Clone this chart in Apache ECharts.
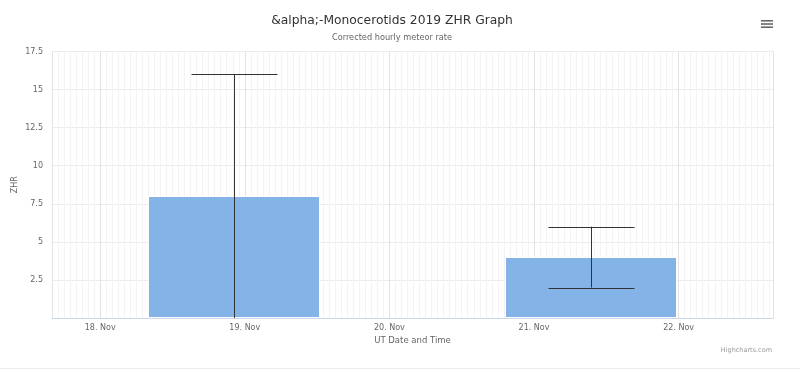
<!DOCTYPE html>
<html>
<head>
<meta charset="utf-8">
<script src="https://cdn.jsdelivr.net/npm/echarts@6/dist/echarts.min.js"></script>
<style>html,body{margin:0;padding:0;background:#fff}#c{width:800px;height:374px}</style>
</head>
<body>
<div id="c"></div>
<script>
// ---- data ----
const times = ['2019-11-18T22:10:00Z', '2019-11-21T09:25:00Z'];
const zhr = [8, 4];
const errLow = [0, 2];
const errHigh = [16, 6];
const yTicks = [0, 2.5, 5, 7.5, 10, 12.5, 15, 17.5];
const titleText = '&alpha;-Monocerotids 2019 ZHR Graph';
const subtitleText = 'Corrected hourly meteor rate';

const xMin = Date.UTC(2019, 10, 17, 16, 0);
const xMax = Date.UTC(2019, 10, 22, 15, 40);
const tms = times.map(t => Date.parse(t));
const FONT = 'DejaVu Sans';
const BAR_W = 171;

const chart = echarts.init(document.getElementById('c'), null, {renderer: 'canvas'});
chart.setOption({
  useUTC: true,
  animation: false,
  backgroundColor: '#fff',
  textStyle: {fontFamily: FONT},
  grid: {left: 52, right: 27, top: 51.5, bottom: 56, containLabel: false},
  xAxis: [{
    type: 'time', min: xMin, max: xMax, z: 2,
    minInterval: 86400000, maxInterval: 86400000,
    axisLine: {show: true, lineStyle: {color: '#ccd6eb', width: 1}},
    axisTick: {show: false},
    splitLine: {show: true, lineStyle: {color: '#e2e2e2', width: 1}},
    axisLabel: {formatter: '{d}. {MMM}', color: '#666', fontSize: 8, margin: 6, showMinLabel: false, showMaxLabel: false, fontFamily: FONT},
    name: 'UT Date and Time', nameLocation: 'middle', nameGap: 18, nameMoveOverlap: false,
    nameTextStyle: {color: '#666', fontSize: 8.5, fontFamily: FONT}
  }, {
    type: 'value', min: xMin, max: xMax, interval: 3600000, position: 'bottom', z: 0,
    axisLine: {show: false}, axisTick: {show: false}, axisLabel: {show: false},
    splitLine: {show: true, lineStyle: {color: '#f3f3f3', width: 1}}
  }],
  yAxis: {
    type: 'value', min: yTicks[0], max: yTicks[yTicks.length - 1], interval: 2.5,
    axisLine: {show: false}, axisTick: {show: false},
    splitLine: {show: true, lineStyle: {color: '#ebebeb', width: 1}},
    axisLabel: {color: '#666', fontSize: 8, margin: 9, fontFamily: FONT,
      formatter: v => v === 0 ? '' : String(v)},
    name: 'ZHR', nameLocation: 'middle', nameRotate: 90, nameGap: 33, nameMoveOverlap: false,
    nameTextStyle: {color: '#666', fontSize: 8, fontFamily: FONT}
  },
  series: [{
    type: 'custom', xAxisIndex: 0, z: 3,
    data: tms.map((t, i) => [t, zhr[i]]),
    encode: {x: 0, y: 1},
    renderItem: (params, api) => {
      const top = api.coord([api.value(0), api.value(1)]);
      const base = api.coord([api.value(0), 0]);
      return {type: 'rect',
        shape: {x: Math.round(top[0] - BAR_W / 2) + 0.5, y: Math.round(top[1]) + 0.5, width: BAR_W, height: base[1] - Math.round(top[1]) - 1},
        style: {fill: '#84b3e8', stroke: '#ffffff', lineWidth: 1}};
    }
  }, {
    type: 'custom', xAxisIndex: 0, z: 4,
    data: tms.map((t, i) => [t, errLow[i], errHigh[i]]),
    encode: {x: 0, y: [1, 2]},
    renderItem: (params, api) => {
      const x = api.value(0);
      const lo = api.coord([x, api.value(1)]);
      const hi = api.coord([x, api.value(2)]);
      const cx = Math.round(lo[0]) + 0.5;
      const hw = 43;
      const st = {stroke: '#333', lineWidth: 1};
      const kids = [
        {type: 'line', shape: {x1: cx, y1: hi[1], x2: cx, y2: lo[1]}, style: st},
        {type: 'line', shape: {x1: cx - hw, y1: Math.round(hi[1]) + 0.5, x2: cx + hw, y2: Math.round(hi[1]) + 0.5}, style: st}
      ];
      if (api.value(1) > yTicks[0]) {
        kids.push({type: 'line', shape: {x1: cx - hw, y1: Math.round(lo[1]) + 0.5, x2: cx + hw, y2: Math.round(lo[1]) + 0.5}, style: st});
      }
      return {type: 'group', children: kids};
    }
  }],
  graphic: [
    {type: 'text', x: 392, y: 21, style: {text: titleText, fill: '#333', fontSize: 12.3, fontFamily: FONT, align: 'center', verticalAlign: 'middle'}},
    {type: 'text', x: 392, y: 38, style: {text: subtitleText, fill: '#666', fontSize: 8.2, fontFamily: FONT, align: 'center', verticalAlign: 'middle'}},
    {type: 'text', x: 772, y: 350, style: {text: 'Highcharts.com', fill: '#999', fontSize: 6.5, fontFamily: FONT, align: 'right', verticalAlign: 'middle'}},
    {type: 'rect', shape: {x: 761, y: 20, width: 12, height: 1.6}, style: {fill: '#666'}},
    {type: 'rect', shape: {x: 761, y: 23.2, width: 12, height: 1.6}, style: {fill: '#666'}},
    {type: 'rect', shape: {x: 761, y: 26.4, width: 12, height: 1.6}, style: {fill: '#666'}},
    {type: 'rect', shape: {x: 0, y: 368, width: 800, height: 1}, style: {fill: '#ececec'}}
  ]
});
</script>
</body>
</html>
